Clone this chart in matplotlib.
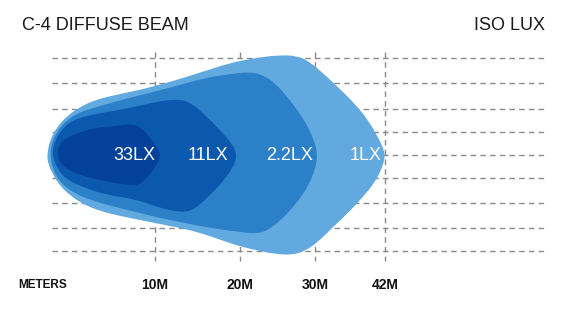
import matplotlib
matplotlib.use("Agg")
import matplotlib.pyplot as plt
from matplotlib.path import Path
from matplotlib.patches import PathPatch
import numpy as np

plt.rcParams['font.family'] = ['Liberation Sans', 'DejaVu Sans']

# ---- data ----
title_left = "C-4 DIFFUSE BEAM"
title_right = "ISO LUX"
distance_labels = ["10M", "20M", "30M", "42M"]
distance_pos = [155, 240, 315, 385]          # x position of each distance mark
lateral_lines = [58, 83, 109, 132, 155, 178, 203, 228, 251]
lux_labels = ["33LX", "11LX", "2.2LX", "1LX"]
lux_label_x = [134, 208, 290, 366]
lux_colors = ["#03419a", "#0b59ae", "#2b80c8", "#62a9e0"]

# iso-lux contours (x, y in chart units)
c1_x = [47, 50, 57, 67, 80, 95, 115, 135, 155, 180, 205, 230, 255, 280, 298, 310, 325, 340, 355, 368, 378, 384, 385,
        382, 375, 363, 348, 332, 318, 305, 292, 275, 255, 235, 210, 190, 170, 145, 120, 100, 85, 72, 60, 52, 48]
c1_y = [155, 140, 127, 116, 107, 100, 95, 91, 86, 79, 71, 63, 58, 55, 56, 62, 75, 89, 104, 120, 137, 150, 157,
        168, 182, 197, 213, 228, 242, 251, 255, 254, 250, 245, 236, 230, 226, 221, 216, 211, 205, 197, 186, 173, 163]

c22_x = [50, 52, 58, 67, 80, 100, 125, 153, 180, 205, 230, 250, 263, 275, 290, 303, 313, 318,
         314, 303, 288, 272, 258, 240, 210, 185, 160, 140, 115, 90, 72, 60, 53]
c22_y = [155, 142, 130, 120, 112, 106, 99, 92, 85, 78, 74, 72, 75, 83, 100, 118, 137, 155,
         174, 195, 213, 228, 234, 232, 228, 223, 218, 213, 207, 200, 192, 182, 170]

c11_x = [52, 55, 63, 73, 90, 107, 130, 155, 177, 190, 205, 220, 233, 237,
         233, 220, 205, 192, 178, 160, 135, 107, 85, 67, 58]
c11_y = [155, 140, 128, 120, 115, 112, 108, 102, 99, 102, 115, 130, 145, 155,
         168, 185, 200, 211, 212, 208, 199, 195, 188, 180, 170]

c33_x = [57, 59, 66, 80, 95, 115, 133, 142, 152, 162, 155, 145, 137, 120, 100, 83, 68, 60]
c33_y = [155, 145, 138, 132, 128, 126, 124, 128, 140, 155, 168, 180, 186, 184, 180, 176, 170, 163]

contours = [(c1_x, c1_y), (c22_x, c22_y), (c11_x, c11_y), (c33_x, c33_y)]
contour_colors = [lux_colors[3], lux_colors[2], lux_colors[1], lux_colors[0]]


def smooth_closed_path(xs, ys):
    pts = np.column_stack([xs, ys]).astype(float)
    n = len(pts)
    mids = (pts + np.roll(pts, -1, axis=0)) / 2.0
    verts = [mids[0]]
    codes = [Path.MOVETO]
    for i in range(1, n + 1):
        verts.append(pts[i % n])
        verts.append(mids[i % n])
        codes += [Path.CURVE3, Path.CURVE3]
    verts.append(mids[0])
    codes.append(Path.CLOSEPOLY)
    return Path(verts, codes)


fig = plt.figure(figsize=(5.7, 3.1), dpi=100)
ax = fig.add_axes([0, 0, 1, 1])
ax.set_xlim(0, 570)
ax.set_ylim(310, 0)
ax.axis('off')

grid_kw = dict(color="#8a8a8a", lw=1.0, dashes=(4, 3), zorder=1)
for y in lateral_lines:
    ax.plot([52, 545], [y, y], **grid_kw)
for x in distance_pos:
    ax.plot([x, x], [52, 261], **grid_kw)

for (xs, ys), col in zip(contours, contour_colors):
    ax.add_patch(PathPatch(smooth_closed_path(xs, ys), facecolor=col, edgecolor='none', zorder=2))

for lab, x in zip(lux_labels, lux_label_x):
    ax.text(x, 156, lab, color="white", fontsize=13, ha="center", va="center", zorder=3)

ax.text(22, 26, title_left, fontsize=13, color="#1a1a1a", ha="left", va="center")
ax.text(545, 26, title_right, fontsize=13, color="#1a1a1a", ha="right", va="center")

ax.text(18, 285, "METERS", fontsize=8.5, fontweight="bold", ha="left", va="center", color="#111111")
for lab, x in zip(distance_labels, distance_pos):
    ax.text(x, 285, lab, fontsize=10, fontweight="bold", ha="center", va="center", color="#111111")

fig.savefig("out.png", dpi=100)
